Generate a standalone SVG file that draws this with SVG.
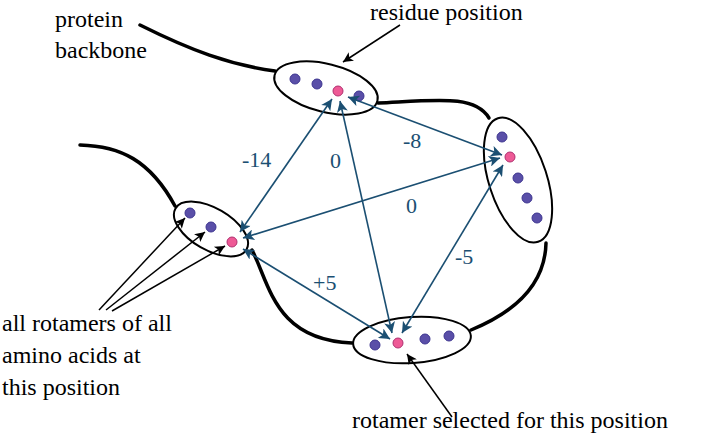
<svg xmlns="http://www.w3.org/2000/svg" width="702" height="438" viewBox="0 0 702 438">
<defs>
<marker id="ab" viewBox="0 0 10 10" refX="10" refY="5" markerWidth="13" markerHeight="11" markerUnits="userSpaceOnUse" orient="auto-start-reverse"><path d="M0,0 L10,5 L0,10 L2.5,5 z" fill="#1b4f72"/></marker>
<marker id="ak" viewBox="0 0 10 10" refX="10" refY="5" markerWidth="12" markerHeight="10" markerUnits="userSpaceOnUse" orient="auto"><path d="M0,0 L10,5 L0,10 L2.5,5 z" fill="#000"/></marker>
</defs>
<style>
.bb{fill:none;stroke:#000;stroke-width:3.5;stroke-linecap:round}
.el{fill:#fff;stroke:#000;stroke-width:2}
.d{fill:#5a4fa8;stroke:#3d3590;stroke-width:1}
.p{fill:#ee5a96;stroke:#b03070;stroke-width:1}
.e{fill:none;stroke:#1b4f72;stroke-width:1.6;marker-start:url(#ab);marker-end:url(#ab)}
.k{fill:none;stroke:#000;stroke-width:1.5;marker-end:url(#ak)}
</style>
<g id="backbone">
<path class="bb" d="M140,25 C190,50 230,65 275,71"/>
<path class="bb" d="M80,145 C120,146 150,160 175,206"/>
<path class="bb" d="M252,250 C270,285 275,340 352,343"/>
<path class="bb" d="M471,330 C515,312 545,285 546,243"/>
<path class="bb" d="M489,118 C475,95 440,100 378,103"/>
</g>
<g id="node-top"><ellipse class="el" cx="326" cy="88" rx="53" ry="24" transform="rotate(14 326 88)"/>
<circle class="d" cx="295" cy="79" r="5"/><circle class="d" cx="317" cy="84" r="5"/><circle class="p" cx="338" cy="91" r="5"/><circle class="d" cx="359" cy="96" r="5"/></g>
<g id="node-right"><ellipse class="el" cx="518" cy="180" rx="29" ry="65" transform="rotate(-18 518 180)"/>
<circle class="d" cx="502" cy="137" r="5"/><circle class="p" cx="510" cy="157" r="5"/><circle class="d" cx="518" cy="178" r="5"/><circle class="d" cx="527" cy="198" r="5"/><circle class="d" cx="537" cy="218" r="5"/></g>
<g id="node-left"><ellipse class="el" cx="211" cy="229" rx="41" ry="21" transform="rotate(30 211 229)"/>
<circle class="d" cx="190" cy="213" r="5"/><circle class="d" cx="211" cy="227" r="5"/><circle class="p" cx="232" cy="242" r="5"/></g>
<g id="node-bottom"><ellipse class="el" cx="412" cy="340" rx="59" ry="23" transform="rotate(-4 412 340)"/>
<circle class="d" cx="375" cy="345" r="5"/><circle class="p" cx="398" cy="343" r="5"/><circle class="d" cx="425" cy="339" r="5"/><circle class="d" cx="449" cy="336" r="5"/></g>
<g id="connectors">
<path class="e" d="M240,232 L332,99"/>
<path class="e" d="M340,101 L392,333"/>
<path class="e" d="M348,97 L502,155"/>
<path class="e" d="M243,238 L500,158"/>
<path class="e" d="M243,249 L390,339"/>
<path class="e" d="M402,333 L503,165"/>
<path class="k" d="M400,25 L343,62"/>
<path class="k" d="M452,417 L407,354"/>
<path class="k" d="M99,310 L185,218"/>
<path class="k" d="M106,310 L205,232"/>
<path class="k" d="M112,311 L225,246"/>
</g>
<g id="weights" font-family="Liberation Serif, serif" font-size="22" fill="#1b4f72">
<text x="242" y="167">-14</text>
<text x="330" y="168">0</text>
<text x="403" y="148">-8</text>
<text x="406" y="213">0</text>
<text x="313" y="290">+5</text>
<text x="455" y="264">-5</text>
</g>
<g id="labels" font-family="Liberation Serif, serif" font-size="24" fill="#000">
<text x="55" y="27">protein</text>
<text x="55" y="58">backbone</text>
<text x="370" y="20">residue position</text>
<text x="2" y="331">all rotamers of all</text>
<text x="2" y="363">amino acids at</text>
<text x="2" y="395">this position</text>
<text x="352" y="428">rotamer selected for this position</text>
</g>
</svg>
